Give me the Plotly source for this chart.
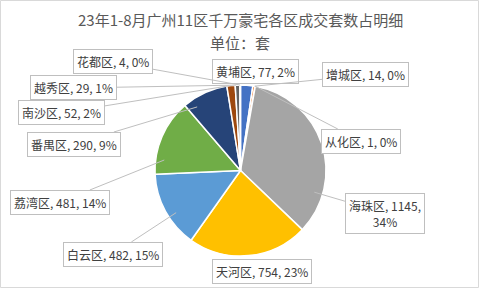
import math
import plotly.graph_objects as go

districts = ["黄埔区", "增城区", "从化区", "海珠区", "天河区", "白云区", "荔湾区", "番禺区", "南沙区", "越秀区", "花都区"]
counts = [77, 14, 1, 1145, 754, 482, 481, 290, 52, 29, 4]
pct_labels = ["2%", "0%", "0%", "34%", "23%", "15%", "14%", "9%", "2%", "1%", "0%"]
colors = ["#4472C4", "#ED7D31", "#A5A5A5", "#A5A5A5", "#FFC000", "#5B9BD5", "#70AD47",
          "#264478", "#9E480E", "#636363", "#997300"]

# label box centres (pixels, y down) - layout only
label_pos = {
    "黄埔区": (255, 71), "增城区": (365, 75), "从化区": (361, 141), "海珠区": (385, 213),
    "天河区": (262, 271), "白云区": (113, 254), "荔湾区": (60, 202), "番禺区": (74, 144),
    "南沙区": (61, 113), "越秀区": (73, 88), "花都区": (113, 62),
}
no_leader = {"黄埔区", "天河区"}

W, H = 480, 289
cx, cy, R = 240.5, 170.5, 85.5

fig = go.Figure(go.Pie(
    labels=districts, values=counts, sort=False, direction="clockwise", rotation=0,
    marker=dict(colors=colors, line=dict(color="white", width=1.5)),
    textinfo="none", hoverinfo="label+value+percent", showlegend=False,
    domain=dict(x=[(cx - R) / W, (cx + R) / W], y=[(H - cy - R) / H, (H - cy + R) / H]),
))

total = sum(counts)
cum = 0
annotations = []
for name, v, p in zip(districts, counts, pct_labels):
    a0 = cum / total * 360
    a1 = (cum + v) / total * 360
    cum += v
    span = a1 - a0
    lx, ly = label_pos[name]
    txt = f"{name}, {v}, {p}" if name != "海珠区" else f"{name}, {v},<br>{p}"
    if name in no_leader:
        annotations.append(dict(x=lx / W, y=1 - ly / H, xref="paper", yref="paper", text=txt,
                                xanchor="center", yanchor="middle",
                                showarrow=False, font=dict(size=12, color="#404040"),
                                bgcolor="white", bordercolor="#BFBFBF", borderwidth=1, borderpad=3))
        continue
    la = math.degrees(math.atan2(lx - cx, -(ly - cy))) % 360
    m = 0.2 * span
    lo, hi = a0 + m, a1 - m

    def angdist(a, b):
        d = abs(a - b) % 360
        return min(d, 360 - d)
    if lo <= la <= hi:
        ang = la
    else:
        ang = lo if angdist(la, lo) < angdist(la, hi) else hi
    rr = 0.9 * R if span > 20 else R
    px = cx + rr * math.sin(math.radians(ang))
    py = cy - rr * math.cos(math.radians(ang))
    annotations.append(dict(x=px / W, y=1 - py / H, xref="paper", yref="paper", text=txt,
                            showarrow=True, ax=lx - px, ay=ly - py, arrowhead=0, arrowwidth=1,
                            arrowcolor="#BFBFBF", standoff=0, startstandoff=0,
                            font=dict(size=12, color="#404040"),
                            bgcolor="white", bordercolor="#BFBFBF", borderwidth=1, borderpad=3))

annotations.append(dict(x=0.5, y=1 - 20 / H, xref="paper", yref="paper",
                        xanchor="center", yanchor="middle",
                        text="23年1-8月广州11区千万豪宅各区成交套数占明细", showarrow=False,
                        font=dict(size=15, color="#595959")))
annotations.append(dict(x=0.5, y=1 - 42 / H, xref="paper", yref="paper",
                        xanchor="center", yanchor="middle",
                        text="单位：套", showarrow=False, font=dict(size=15, color="#595959")))

fig.update_layout(
    width=W, height=H, margin=dict(l=0, r=0, t=0, b=0),
    paper_bgcolor="white", plot_bgcolor="white",
    font=dict(family="Noto Sans CJK SC, sans-serif"),
    annotations=annotations,
    shapes=[dict(type="rect", xref="paper", yref="paper", x0=0.5 / W, x1=478.5 / W,
                 y0=1 - 287.5 / H, y1=1 - 0.5 / H, line=dict(color="#D9D9D9", width=1))],
)
fig.write_html("out.html")
